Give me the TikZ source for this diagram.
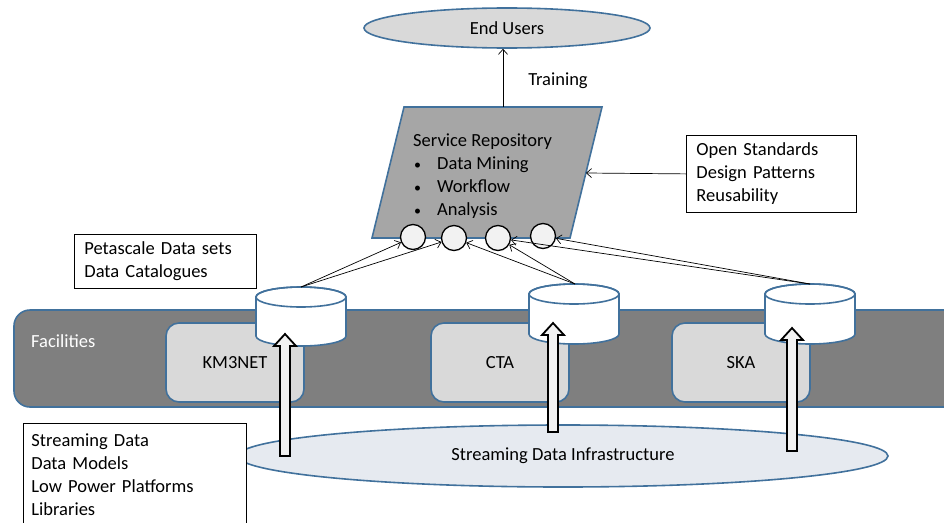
\documentclass[tikz,border=0pt]{standalone}
\usepackage{fontspec}
\setmainfont{Carlito}
\usetikzlibrary{shapes.geometric,arrows.meta}
\definecolor{bord}{RGB}{65,113,156}
\definecolor{lightg}{RGB}{217,217,217}
\definecolor{darkg}{RGB}{127,127,127}
\definecolor{midg}{RGB}{166,166,166}
\definecolor{sdi}{RGB}{230,234,240}
\definecolor{circf}{RGB}{242,242,242}
\tikzset{
  bluebord/.style={draw=bord, line width=1.6pt},
  tbox/.style={draw=black, line width=0.8pt, fill=white, anchor=north west, inner xsep=10pt, inner ysep=0pt, align=left},
  facbox/.style={bluebord, fill=lightg, rounded corners=13pt, minimum width=138pt, minimum height=79pt},
  cylstyle/.style={bluebord, fill=white},
  blockarr/.style={draw=black, line width=1.8pt, fill=circf},
  thinarr/.style={draw=black, line width=0.7pt, -{Straight Barb[length=5pt,width=9pt]}},
  port/.style={circle, draw=black, line width=1.3pt, fill=circf, minimum size=25pt, inner sep=0pt},
}
\newcommand{\mycyl}[3]{% center x, top y, bottom y
  \path[cylstyle] (#1-45,#2+10) -- (#1-45,#3-10) arc[start angle=180, end angle=360, x radius=45pt, y radius=10pt] -- (#1+45,#2+10) arc[start angle=0, end angle=180, x radius=45pt, y radius=10pt] -- cycle;
  \draw[bord, line width=1.6pt] (#1,#2+10) ellipse [x radius=45pt, y radius=10pt];
}
\newcommand{\myblock}[3]{% center x, tip y, bottom y
  \path[blockarr] (#1-5,#3) -- (#1-5,#2+12) -- (#1-11,#2+12) -- (#1,#2) -- (#1+11,#2+12) -- (#1+5,#2+12) -- (#1+5,#3) -- cycle;
}
\newcommand{\bul}{\makebox[24pt][l]{\hspace{1pt}{\fontsize{14}{14}\selectfont •}}}
\begin{document}
\begin{tikzpicture}[x=1pt, y=-1pt, font=\fontsize{18.5}{23}\selectfont]
\useasboundingbox (0,0) rectangle (944,522);
\clip (0,0) rectangle (944,522);

% facilities bar
\path[bluebord, fill=darkg, rounded corners=16pt] (14,310) rectangle (975,407);
\node[anchor=west, text=white, inner sep=0pt] (facl) at (31,341) {Facilities};
\node[facbox] (km) at (235,362.5) {KM3NET};
\node[facbox] (cta) at (500,362.5) {CTA};
\node[facbox] (ska) at (741,362.5) {SKA};

% streaming data infrastructure
\node[ellipse, draw=bord, line width=1.6pt, fill=sdi, minimum width=650pt, minimum height=62pt, inner sep=0pt] (sdinf) at (563,456) {\raisebox{-3pt}{Streaming Data Infrastructure}};

% cylinders
\mycyl{301}{287}{346}
\mycyl{574}{284}{344}
\mycyl{810}{284}{344}
\coordinate (kmtop) at (301,287);
\coordinate (ctatop) at (575,284);
\coordinate (skatop) at (810,284);

% block arrows
\myblock{285}{334}{456}
\myblock{553}{323}{432}
\myblock{792}{328}{451}

% service repository
\path[bluebord, fill=midg] (404,107) -- (602,107) -- (570,238) -- (372,238) -- cycle;
\coordinate (rtop) at (503,107);
\coordinate (rright) at (586,173);
\node[anchor=west, inner sep=0pt, align=left] (repotxt) at (413,176)
  {Service Repository\\
   \bul Data Mining\\
   \bul Workflow\\
   \bul Analysis};

\node[port] (c1) at (413,237) {};
\node[port] (c2) at (454,238) {};
\node[port] (c3) at (498,238) {};
\node[port] (c4) at (543,236) {};

% end users
\node[ellipse, draw=bord, line width=1.6pt, fill=lightg, minimum width=286pt, minimum height=40pt, inner sep=0pt] (eu) at (507,28) {End Users};
\draw[thinarr] (rtop) -- (rtop |- eu.south);
\node (train) at (558,81) {Training};

% boxes
\node[tbox, minimum height=77pt, text width=150pt] (os) at (686,135) {Open Standards\\Design Patterns\\Reusability};
\draw[thinarr] (os.west) -- (rright);
\node[tbox, minimum height=54pt, text width=162pt] (peta) at (74,234) {Petascale Data sets\\Data Catalogues};
\node[tbox, minimum height=103pt, text width=207pt, inner xsep=8pt] (sd) at (23,423) {Streaming Data\\Data Models\\Low Power Platforms\\Libraries};

% thin arrows
\draw[thinarr] (kmtop) -- (c1);
\draw[thinarr] (kmtop) -- (c2);
\draw[thinarr] (ctatop) -- (c2);
\draw[thinarr] (ctatop) -- (c3);
\draw[thinarr] (skatop) -- (c3);
\draw[thinarr] (skatop) -- (c4);
\end{tikzpicture}
\end{document}
